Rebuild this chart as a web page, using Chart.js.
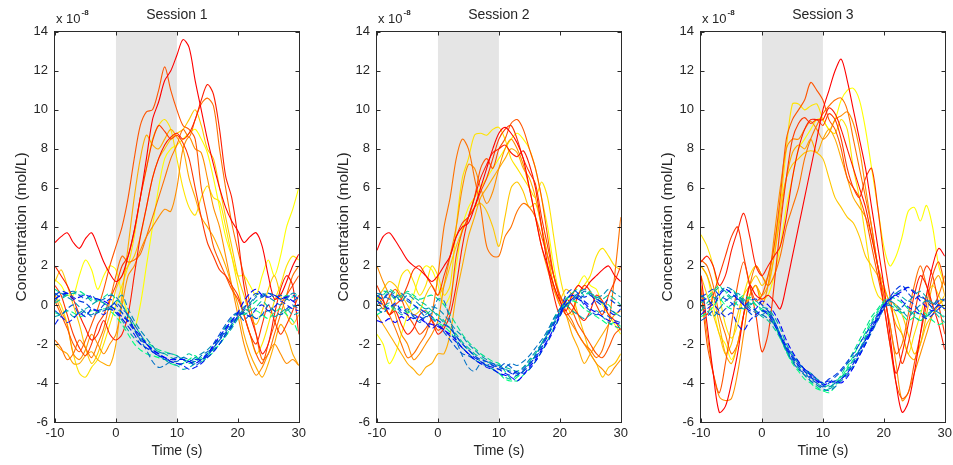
<!DOCTYPE html>
<html><head><meta charset="utf-8">
<script src="https://cdn.jsdelivr.net/npm/chart.js@4.4.1/dist/chart.umd.min.js"></script>
<style>
html,body{margin:0;padding:0;background:#fff;overflow:hidden;width:953px;height:465px;}
.panel{position:absolute;top:0;width:310px;height:465px;}
</style></head><body>
<div class="panel" style="left:0px"><canvas id="c1" width="310" height="465"></canvas></div>
<div class="panel" style="left:322px"><canvas id="c2" width="310" height="465"></canvas></div>
<div class="panel" style="left:646px"><canvas id="c3" width="310" height="465"></canvas></div>
<script>
const time = [-10,-9,-8,-7,-6,-5,-4,-3,-2,-1,0,1,2,3,4,5,6,7,8,9,10,11,12,13,14,15,16,17,18,19,20,21,22,23,24,25,26,27,28,29,30];
const sessionTitles = ['Session 1','Session 2','Session 3'];
const xTickValues = [-10,0,10,20,30];
const yMin = -6, yMax = 14, yStep = 2;
const stimulusWindow = [0,10];
const xLabel = 'Time (s)';
const yLabel = 'Concentration (mol/L)';
const exponentBase = 'x 10';
const exponentPower = '-8';

// Session 1 — solid traces (red → yellow)
const s1Solid = [
 [3.2,3.5,3.7,3.2,2.9,3.4,3.7,3.0,2.2,1.6,1.2, 1.5,2.5,3.8,5.5,7.5,9.5,10.4,11.5,12.0,12.8, 13.6,13.2,11.5,10.0,8.5,7.2,6.0,5.0,4.3,3.8, 3.2,3.5,3.7,3.0,1.5,0.3,0.5,1.2,2.0,2.6],
 [2.0,1.5,1.0,0.3,-0.5,-1.2,-1.8,-1.5,-0.8,-1.5,-1.8, -1.5,-0.5,1.5,3.5,5.0,6.5,7.5,8.2,8.6,8.8, 8.5,8.8,9.5,10.5,11.3,10.8,9.0,6.6,5.5,3.5, 1.0,-0.5,-1.5,-2.5,-2.0,-0.5,0.8,1.5,1.0,-1.5],
 [1.0,0.5,-0.5,-1.5,-2.2,-2.6,-2.0,-1.0,-0.5,0.3,1.0, 2.0,2.5,3.8,5.5,7.0,8.4,9.2,8.9,8.5,8.7, 8.3,7.5,6.0,4.5,3.2,2.5,1.8,1.5,1.0,0.5, -0.5,-1.5,-2.0,-1.0,0.0,-0.8,-1.5,-1.0,-0.3,0.5],
 [0.2,-0.5,-1.2,-2.0,-2.4,-1.8,-1.0,-0.2,0.8,2.0,3.0, 4.0,5.5,7.5,9.2,9.9,10.0,11.0,12.2,11.0,10.0, 9.2,9.0,8.5,6.0,4.5,3.0,2.2,1.5,0.8,0.3, -0.5,-1.5,-2.5,-3.0,-2.0,-1.0,0.0,0.5,1.0,1.5],
 [-1.8,-2.2,-2.8,-2.5,-1.8,-2.2,-2.7,-2.0,-1.2,0.2,1.5, 2.5,2.2,2.3,2.6,3.5,4.5,5.5,6.5,7.5,8.2, 9.0,8.6,9.5,10.3,10.6,10.2,8.0,6.0,4.2,2.8, 1.5,0.0,-1.5,-2.8,-2.5,-1.5,-0.5,0.5,1.5,2.0],
 [0.5,-0.3,-1.0,-2.5,-2.8,-2.3,-1.5,-2.0,-2.5,-2.0,-1.5, 0.0,1.5,2.0,2.8,3.5,4.0,4.5,4.9,4.8,6.0, 8.0,8.6,8.0,7.8,6.5,5.0,4.0,2.5,1.0,-0.5, -2.0,-3.0,-3.6,-3.2,-2.5,-2.0,-2.5,-3.0,-2.8,-3.1],
 [-2.0,-2.3,-2.5,-3.0,-3.0,-2.6,-2.4,-2.8,-3.0,-3.1,-2.0, 0.5,3.0,5.5,7.5,8.7,8.2,8.0,8.5,9.0,8.6, 8.0,6.5,5.5,4.5,4.0,3.5,2.8,2.0,1.0,0.0, -1.5,-2.5,-3.2,-3.7,-3.0,-2.0,-1.0,-1.5,-2.5,-3.1],
 [1.2,1.8,1.0,0.0,-1.0,-2.2,-3.0,-2.5,-1.5,-0.5,0.8, 1.5,2.0,2.5,3.5,5.0,6.5,7.5,8.0,8.5,8.8, 9.0,9.5,10.0,9.2,8.0,7.5,6.0,4.5,3.0,1.5, 0.5,-0.5,-1.0,-0.3,0.8,1.5,0.5,-0.5,-1.0,-0.5],
 [0.5,0.0,-1.0,-2.5,-3.5,-3.7,-3.2,-2.8,-2.0,-1.0,0.0, 1.0,2.0,3.5,5.5,7.0,8.5,9.2,9.5,9.0,7.5, 6.0,5.0,4.6,5.5,6.1,5.5,5.3,4.0,2.5,1.0, -0.5,-1.5,-2.5,-2.0,-1.0,0.2,1.0,2.0,2.5,2.3],
 [1.3,1.0,0.5,0.5,1.5,2.3,1.8,0.8,1.5,2.0,1.8, 0.5,-0.5,-1.2,0.0,2.0,4.0,6.0,7.5,8.0,8.2, 8.5,8.8,9.0,8.5,7.8,6.5,5.0,3.5,2.5,1.5, 1.5,1.0,0.5,1.5,2.3,1.5,2.5,4.0,4.9,6.0]
];
// Session 1 — dashed traces (blue → green)
const s1Dashed = [
 [0.3,0.5,0.6,0.3,0.4,0.5,0.4,0.3,0.2,0.0,-0.3, -0.6,-0.8,-1.2,-1.6,-2.0,-2.3,-2.5,-2.7,-2.8,-2.8, -2.8,-2.9,-3.0,-2.8,-2.5,-2.1,-1.6,-1.2,-0.8,-0.4, 0.2,0.6,0.8,0.5,0.4,0.5,0.3,0.4,0.2,0.0],
 [-1.0,-0.6,-0.9,-0.7,-0.4,-0.6,-0.2,-0.3,-0.5,-0.2,-0.4, -0.7,-1.1,-1.5,-2.0,-2.2,-2.4,-2.6,-2.7,-2.9,-3.0, -3.1,-3.3,-3.2,-3.0,-2.7,-2.4,-2.0,-1.5,-1.1,-0.6, -0.4,-0.6,-0.2,0.0,-0.3,-0.1,0.2,0.0,-0.2,-0.3],
 [0.5,0.7,0.6,0.4,0.2,0.1,-0.2,-0.3,0.0,0.3,0.0, -0.4,-0.9,-1.3,-1.8,-2.0,-2.3,-2.5,-2.7,-2.9,-3.0, -3.0,-2.9,-2.8,-2.8,-2.6,-2.2,-1.8,-1.3,-0.9,-0.5, -0.2,0.3,0.6,0.4,0.6,0.5,0.3,0.4,0.5,0.3],
 [-0.3,-0.5,-0.2,0.0,-0.5,-0.3,-0.6,-0.4,-0.3,-0.1,0.1, -0.2,-0.5,-1.0,-1.5,-2.0,-2.4,-2.6,-2.8,-2.8,-2.7, -2.8,-2.9,-3.1,-2.9,-2.6,-2.0,-1.5,-1.0,-0.6,-0.4, -0.8,-0.5,-0.7,-0.5,0.0,-0.3,-0.5,-0.2,0.0,-0.2],
 [0.6,0.4,0.6,0.7,0.5,0.3,0.5,0.2,0.3,0.5,0.4, 0.0,-0.6,-1.2,-1.8,-2.3,-2.9,-3.2,-3.1,-2.9,-2.9, -2.7,-2.8,-2.9,-2.6,-2.4,-2.2,-1.8,-1.4,-1.0,-0.6, -0.3,0.0,0.4,0.5,0.6,0.4,0.5,0.3,0.2,0.4],
 [0.2,0.6,0.4,0.2,-0.1,-0.4,-0.5,-0.3,-0.2,-0.1,0.2, 0.5,-0.2,-0.8,-1.3,-1.7,-2.1,-2.4,-2.5,-2.5,-2.6, -2.8,-2.9,-2.7,-2.5,-2.3,-2.0,-1.7,-1.2,-0.8,-0.4, -0.1,0.1,0.5,0.6,0.4,0.2,0.0,0.3,0.6,0.5],
 [-0.6,-0.5,-0.3,-0.6,-0.4,-0.2,0.0,0.2,0.1,-0.2,-0.4, -0.8,-1.3,-1.7,-2.0,-2.2,-2.4,-2.6,-2.8,-3.0,-3.1, -3.3,-3.2,-3.0,-2.8,-2.6,-2.3,-2.0,-1.6,-1.2,-0.7, -0.2,-0.4,-0.7,-0.5,-0.3,-0.6,-0.4,-0.2,-0.5,-0.4],
 [0.1,0.3,0.5,0.6,0.5,0.5,0.2,0.3,0.1,-0.1,-0.2, -0.4,-0.8,-1.3,-1.7,-2.0,-2.2,-2.4,-2.5,-2.7,-2.8, -2.7,-2.5,-2.7,-2.8,-2.6,-2.2,-1.7,-1.1,-0.7,-0.4, -0.5,-0.3,-0.1,0.2,-0.1,-0.3,-0.5,-0.3,-0.1,0.0],
 [0.8,0.6,0.5,0.6,0.7,0.5,0.3,0.2,0.4,0.6,0.3, 0.0,-0.5,-1.0,-1.5,-1.9,-2.1,-2.3,-2.4,-2.5,-2.6, -2.8,-3.0,-2.9,-2.7,-2.5,-2.3,-2.0,-1.5,-1.0,-0.6, -0.4,-0.1,0.2,0.4,0.6,0.5,0.3,0.5,0.4,0.6],
 [-0.4,-0.5,-0.3,-0.4,-0.6,-0.5,-0.3,-0.4,-0.2,-0.3,-0.6, -1.0,-1.5,-2.0,-2.3,-2.5,-2.6,-2.7,-2.8,-3.0,-3.1, -3.0,-2.8,-2.6,-2.9,-2.7,-2.4,-2.0,-1.6,-1.1,-0.7, -0.4,-0.6,-0.3,-0.5,-0.7,-0.4,-0.2,-0.5,-0.8,-1.5]
];

// Session 2 — solid traces
const s2Solid = [
 [2.8,3.5,3.7,3.3,2.8,2.3,2.0,1.8,1.5,1.2,1.5, 2.0,2.5,3.5,4.0,4.2,5.0,6.0,7.0,8.0,8.8, 9.1,8.8,8.3,7.5,6.0,4.5,3.0,2.0,1.0,0.2, -0.3,0.5,1.0,0.8,1.2,1.5,1.8,2.0,1.5,1.2],
 [0.5,0.2,-0.5,-0.3,-1.0,-1.5,-1.2,-0.5,-0.3,-0.8,-1.5, -1.2,-0.5,1.0,3.0,4.5,5.5,6.5,7.2,7.8,8.0, 8.2,7.8,7.6,7.9,7.2,6.0,4.0,2.0,0.5,-0.5, 0.3,0.0,-0.5,-0.8,-0.3,0.5,0.2,-0.5,-0.8,-1.3],
 [1.0,0.3,-0.5,0.0,0.3,1.0,1.8,2.0,1.5,1.0,0.5, 1.5,2.5,3.5,4.2,4.5,5.0,5.8,6.5,7.5,8.5, 9.0,9.2,8.5,7.5,6.8,6.2,4.5,3.0,1.5,0.3, -0.5,-0.3,0.5,1.0,0.7,0.0,-0.5,0.5,1.2,2.0],
 [0.3,-0.2,0.4,0.8,0.3,-0.5,-1.0,-1.5,-1.2,-0.8,-1.3, -1.0,0.0,2.5,3.8,4.5,5.5,7.0,7.5,7.0,8.0, 8.5,9.3,9.5,9.0,8.0,7.0,5.5,3.5,1.5,0.5, 0.0,-0.3,-1.0,-1.5,-2.0,-2.5,-2.7,-2.2,-1.5,-1.2],
 [0.5,0.0,-0.5,-1.2,-2.0,-2.7,-2.5,-2.0,-1.5,-0.5,1.5, 4.0,5.5,7.5,8.5,8.0,6.5,5.0,3.0,2.5,2.5, 3.5,4.0,4.8,5.2,5.0,4.5,3.5,2.5,1.5,0.5, -0.3,-0.8,-1.5,-2.0,-2.3,-2.7,-2.3,-1.0,1.5,4.5],
 [2.0,1.2,0.5,-0.5,-1.5,-2.0,-2.8,-2.5,-2.0,-1.5,-0.8, 1.0,2.5,4.0,6.0,7.2,7.0,6.0,5.2,5.8,7.0, 8.0,8.5,8.0,7.2,6.0,4.5,3.0,1.8,0.8,0.0, -0.5,-1.0,-1.5,-2.0,-2.5,-3.0,-3.3,-3.6,-3.2,-2.8],
 [-0.5,-1.0,-1.5,-2.0,-2.5,-3.0,-3.3,-3.6,-3.2,-3.0,-2.5, -2.5,-1.5,0.5,2.0,3.5,4.5,5.5,6.0,6.5,7.0, 7.5,8.0,7.8,7.0,6.5,5.5,4.0,2.5,1.0,0.0, -0.5,-1.5,-2.2,-3.0,-2.5,-2.0,-1.5,-1.0,-0.5,-0.3],
 [0.3,0.8,1.2,1.0,0.5,0.0,-0.5,-0.3,0.5,1.0,0.5, 1.0,2.0,3.0,3.8,4.5,5.0,5.2,4.8,4.0,3.0, 4.5,6.0,6.3,5.8,5.0,5.2,4.0,2.5,1.0,0.3, 0.8,0.5,-0.5,-1.5,-2.5,-3.0,-3.7,-3.2,-3.0,-2.5],
 [0.5,0.0,-0.5,0.3,1.5,1.8,1.2,0.5,1.0,2.0,1.5, 0.5,1.0,4.0,6.5,7.5,8.7,8.8,8.7,9.0,9.1, 8.5,7.5,7.0,6.5,6.0,5.5,6.3,5.5,3.5,1.5, 0.2,-0.5,0.5,1.0,1.5,2.5,2.9,2.5,2.0,1.8],
 [-1.5,-2.0,-3.0,-2.5,-1.5,-0.5,0.5,1.5,2.0,1.8,1.0, 0.0,0.5,2.0,4.0,5.0,5.5,6.0,6.5,7.0,7.5, 8.0,8.5,8.8,8.5,8.0,7.0,5.5,4.0,2.0,0.5, 0.0,0.5,1.0,1.5,1.0,0.8,0.0,-0.5,-1.0,-1.5]
];
// Session 2 — dashed traces
const s2Dashed = [
 [-0.8,-0.9,-0.7,-0.9,-0.6,-0.8,-0.5,-0.7,-0.9,-1.0,-1.1, -1.3,-1.5,-1.8,-2.2,-2.5,-2.8,-3.0,-3.2,-3.3,-3.5, -3.6,-3.7,-3.9,-3.6,-3.2,-2.8,-2.3,-1.8,-1.2,-0.5, 0.2,0.5,0.3,0.1,-0.2,-0.4,-0.6,-0.8,-0.9,-1.0],
 [0.2,0.0,-0.2,0.1,-0.3,-0.5,-0.7,-0.6,-0.9,-1.2,-1.0, -1.3,-1.6,-1.9,-2.2,-2.5,-2.7,-2.9,-3.1,-3.2,-3.3, -3.5,-3.6,-3.4,-3.5,-3.3,-2.9,-2.4,-1.9,-1.3,-0.6, 0.0,0.3,0.5,0.2,0.0,0.3,0.1,-0.3,-0.5,-0.2],
 [0.5,0.3,0.6,0.4,0.2,0.3,0.0,-0.2,-0.4,-0.6,-0.8, -1.0,-1.2,-1.6,-2.0,-2.3,-2.6,-2.8,-2.9,-3.1,-3.2, -3.3,-3.5,-3.6,-3.3,-3.0,-2.7,-2.2,-1.6,-1.0,-0.3, 0.5,0.8,0.6,0.4,0.5,0.2,0.0,0.3,0.1,-0.1],
 [-0.2,-0.4,-0.1,0.0,-0.4,-0.2,-0.6,-0.9,-0.6,-0.7,-1.0, -1.4,-1.8,-2.2,-2.5,-2.6,-2.8,-3.0,-3.1,-3.0,-3.2, -3.0,-3.2,-3.5,-3.4,-3.1,-2.6,-2.1,-1.5,-0.9,-0.4, 0.0,0.2,0.4,0.0,-0.3,-0.5,-0.3,-0.6,-0.8,-0.9],
 [0.6,0.5,0.3,0.4,0.6,0.2,0.0,-0.3,-0.6,-0.4,0.3, 0.2,-0.8,-1.8,-2.6,-3.2,-3.4,-3.0,-2.9,-3.1,-3.3, -3.2,-3.0,-3.1,-2.9,-2.6,-2.2,-1.8,-1.3,-0.7,-0.2, 0.2,0.6,0.4,0.7,0.5,0.3,0.1,-0.2,-0.4,-0.6],
 [0.0,0.3,0.7,0.5,0.2,0.5,0.3,0.0,-0.2,-0.1,-0.2, -0.5,-0.9,-1.3,-1.6,-2.0,-2.3,-2.6,-2.8,-3.0,-3.1, -3.3,-3.4,-3.5,-3.2,-2.8,-2.4,-2.0,-1.5,-1.0,-0.5, 0.0,0.3,0.6,0.8,0.6,0.4,0.5,0.8,0.6,0.4],
 [-0.3,-0.1,0.1,-0.2,-0.5,-0.3,-0.6,-0.8,-0.5,-0.3,-0.6, -0.9,-1.2,-1.6,-2.0,-2.3,-2.6,-2.9,-3.1,-3.3,-3.5, -3.7,-3.8,-3.6,-3.4,-3.0,-2.6,-2.0,-1.4,-0.8,-0.3, 0.0,-0.3,-0.5,-0.7,-0.5,-0.3,-0.6,-0.9,-1.1,-1.2],
 [0.4,0.7,0.6,0.3,0.5,0.6,0.4,0.2,0.0,-0.3,-0.5, -0.8,-1.2,-1.5,-1.9,-2.2,-2.5,-2.7,-2.9,-3.0,-3.1, -3.2,-3.3,-3.4,-3.2,-2.9,-2.5,-2.0,-1.5,-0.9,-0.4, 0.3,0.5,0.3,0.5,0.6,0.4,0.3,0.5,0.3,0.0],
 [0.2,0.5,0.8,0.6,0.4,0.7,0.5,0.3,0.4,0.5,0.3, 0.0,-0.5,-1.0,-1.5,-1.9,-2.2,-2.5,-2.7,-2.9,-3.0, -3.4,-3.8,-3.9,-3.6,-3.3,-2.9,-2.4,-1.8,-1.2,-0.6, 0.2,0.6,0.8,0.5,0.7,0.3,0.1,0.0,-0.4,-0.6],
 [-0.5,-0.3,0.0,-0.3,-0.1,-0.4,-0.2,0.0,-0.3,-0.6,-0.9, -1.1,-1.4,-1.8,-2.2,-2.5,-2.8,-3.0,-3.1,-3.3,-3.5, -3.8,-3.9,-3.7,-3.4,-3.0,-2.6,-2.0,-1.4,-0.7,-0.2, -0.1,0.2,0.1,-0.2,-0.4,-0.6,-0.8,-1.0,-0.9,-1.1]
];

// Session 3 — solid traces
const s3Solid = [
 [1.5,-1.0,-3.5,-5.5,-5.2,-4.0,-2.5,-0.5,1.0,0.5,0.3, 0.5,0.2,-0.2,1.0,2.5,4.0,5.5,7.0,8.5,10.0, 11.0,12.0,12.6,11.5,10.0,8.5,7.0,5.0,3.0,1.0, -1.5,-4.0,-5.5,-5.0,-3.5,-1.5,0.5,2.0,2.9,2.5],
 [2.2,2.5,2.0,1.0,1.5,2.8,3.8,4.7,3.5,2.0,1.5, 2.0,2.5,3.0,4.5,6.5,8.0,9.0,9.5,9.5,9.5, 10.1,9.8,9.0,8.0,7.0,6.0,5.0,3.5,2.0,0.0, -2.0,-3.5,-2.5,-1.0,0.5,1.5,1.0,0.0,-1.0,-2.3],
 [0.0,-0.5,0.5,1.5,2.5,3.5,4.0,2.5,1.0,-0.5,-2.4, -1.5,1.0,4.0,6.5,8.5,9.3,9.6,9.3,9.5,9.2, 9.8,9.5,8.5,7.0,6.0,5.5,6.5,7.0,5.0,2.5, 0.5,-1.5,-3.0,-2.0,-0.5,1.0,2.0,1.5,0.0,-1.5],
 [0.8,-2.0,-3.5,-4.5,-3.0,-1.0,1.0,2.2,1.0,0.2,0.5, 1.5,3.0,5.5,8.5,9.5,10.0,10.5,11.4,11.0,10.5, 9.5,9.0,8.0,6.5,6.0,5.5,4.5,3.0,1.5,0.0, -2.0,-4.0,-4.8,-4.5,-3.0,-1.5,0.0,1.5,2.2,1.0],
 [2.3,2.0,1.0,-0.5,-1.5,-2.5,-2.0,-0.5,1.0,2.0,1.5, 1.0,1.5,2.5,4.0,5.0,6.0,7.5,8.5,9.2,9.8, 10.2,10.5,10.6,10.0,8.5,7.0,5.5,4.0,2.0,0.5, -1.0,-2.5,-2.0,-0.5,1.0,2.0,1.0,0.0,0.5,1.5],
 [1.0,-1.5,-3.5,-4.7,-4.9,-4.8,-3.5,-1.5,0.5,1.0,0.0, 1.0,3.5,6.0,8.0,8.5,8.5,9.0,9.4,9.0,8.5, 8.8,9.5,9.7,9.9,9.3,8.0,6.0,4.0,2.0,0.5, -1.0,-3.0,-4.9,-4.5,-3.5,-2.5,-1.5,-0.5,0.0,0.3],
 [2.0,1.5,0.5,-1.0,-2.5,-3.0,-2.0,-0.5,0.5,1.0,0.5, 1.0,2.5,4.5,6.5,7.8,8.2,8.0,8.5,7.8,8.5, 9.0,8.5,7.5,6.5,5.5,5.0,4.5,3.5,2.0,1.0, 0.0,-1.0,-1.5,-2.5,-2.8,-2.0,-0.5,1.0,1.5,0.5],
 [1.5,0.5,-0.5,-1.5,-2.5,-2.0,-0.5,0.5,1.0,1.5,1.0, 1.5,3.0,5.0,6.5,7.2,7.5,7.8,7.9,7.8,7.5, 6.5,5.5,5.0,4.5,4.2,3.5,2.5,2.0,1.5,0.8, 0.2,0.0,-0.5,-1.5,-2.5,-2.0,-1.0,-0.5,0.0,0.5],
 [3.6,3.0,2.0,0.5,-1.0,-1.7,-1.0,0.5,1.5,2.0,1.5, 1.0,2.5,5.0,8.0,10.3,10.3,10.0,10.2,10.3,9.5, 9.0,8.8,9.5,9.0,7.0,5.5,3.5,1.5,0.5,0.2, 0.0,-0.5,-1.5,-2.5,-1.5,-0.5,0.5,1.0,0.5,-0.3],
 [2.0,1.5,0.0,-1.5,-2.0,-2.8,-2.0,-0.5,0.5,1.0,0.3, 0.5,1.5,3.0,5.0,6.5,8.0,8.5,9.0,9.5,9.5, 9.0,9.5,10.5,11.0,11.1,10.5,9.0,7.0,5.0,3.0, 2.0,2.5,3.5,4.8,5.0,4.3,5.1,4.0,2.0,1.0]
];
// Session 3 — dashed traces
const s3Dashed = [
 [0.2,0.3,0.0,0.5,0.8,0.6,0.3,0.0,-0.3,-0.2,0.2, 0.0,-0.4,-1.0,-1.8,-2.4,-2.9,-3.3,-3.6,-3.9,-4.1, -4.0,-3.9,-4.0,-3.7,-3.2,-2.6,-2.0,-1.3,-0.7,-0.1, 0.3,0.5,0.7,0.9,0.6,0.2,-0.1,-0.3,0.0,-0.2],
 [-0.5,-0.2,0.0,-0.3,-0.6,-0.4,-1.0,-1.3,-0.8,-0.5,-0.3, -0.5,-1.0,-1.6,-2.2,-2.7,-3.1,-3.4,-3.7,-3.9,-4.0, -3.9,-4.0,-3.8,-3.5,-3.0,-2.4,-1.8,-1.2,-0.6,0.0, 0.3,0.5,0.2,-0.1,-0.3,-0.5,-0.7,-0.5,-0.2,0.0],
 [0.4,0.6,0.8,0.5,0.3,0.1,-0.2,-0.1,0.2,0.3,0.0, -0.3,-0.8,-1.5,-2.1,-2.6,-3.0,-3.3,-3.5,-3.8,-4.0, -3.8,-3.6,-3.3,-2.9,-2.5,-2.0,-1.5,-1.0,-0.5,0.0, 0.4,0.8,1.0,0.6,0.3,0.5,0.2,-0.1,0.2,0.3],
 [-0.8,-0.6,-0.3,-0.5,-0.2,0.0,0.3,0.0,-0.4,-0.6,-0.3, -0.4,-0.9,-1.6,-2.3,-2.9,-3.3,-3.5,-3.8,-4.0,-4.2, -4.0,-3.7,-3.4,-3.0,-2.7,-2.3,-1.8,-1.3,-0.8,-0.2, 0.0,-0.3,-0.1,0.2,0.0,-0.4,-0.6,-0.3,0.0,-0.2],
 [0.3,0.0,0.2,0.6,0.9,0.8,0.4,0.1,-0.2,-0.4,-0.5, -0.7,-1.0,-1.6,-2.3,-2.8,-3.2,-3.6,-3.9,-4.1,-4.3, -4.4,-4.2,-3.9,-3.6,-3.2,-2.6,-2.0,-1.4,-0.8,-0.2, 0.2,0.6,0.8,0.9,0.7,0.4,0.3,0.0,0.3,0.2],
 [0.0,-0.3,-0.6,-0.2,0.2,0.4,0.5,0.2,-0.1,-0.3,-0.5, -0.3,-0.8,-1.5,-2.2,-2.6,-3.0,-3.3,-3.6,-3.8,-4.0, -4.2,-4.0,-3.8,-3.5,-3.1,-2.5,-1.9,-1.2,-0.6,0.0, 0.2,0.0,-0.3,-0.6,-0.3,0.0,0.2,-0.2,-0.4,-0.6],
 [0.5,0.3,0.6,0.9,0.7,0.4,0.6,0.3,0.0,0.2,-0.1, -0.2,-0.6,-1.2,-2.0,-2.5,-2.9,-3.3,-3.5,-3.8,-4.1, -4.3,-4.1,-3.8,-3.4,-2.9,-2.3,-1.7,-1.1,-0.6,-0.1, 0.3,0.6,0.4,0.2,0.5,0.7,0.4,0.1,0.0,-0.2],
 [-0.3,0.1,0.4,0.2,0.5,0.3,0.0,-0.2,0.1,-0.3,-0.6, -0.8,-1.2,-1.7,-2.3,-2.7,-3.1,-3.4,-3.7,-4.0,-4.2, -4.1,-3.9,-3.7,-3.3,-2.8,-2.3,-1.6,-0.9,-0.4,0.1, 0.2,-0.1,-0.4,-0.3,-0.6,-0.8,-0.5,-0.3,-0.6,-0.9],
 [0.1,0.4,0.7,1.0,0.6,0.8,0.5,0.2,0.4,0.0,-0.2, -0.4,-0.9,-1.6,-2.4,-2.9,-3.3,-3.6,-3.9,-4.2,-4.4, -4.3,-4.0,-3.6,-3.0,-2.4,-1.8,-1.2,-0.6,-0.2,0.2, 0.4,0.3,0.1,-0.2,-0.5,-0.8,-0.6,-0.3,-0.4,-0.7],
 [-0.6,-0.4,-0.1,0.3,0.0,-0.2,0.2,0.5,0.3,0.0,-0.3, -0.5,-1.0,-1.7,-2.4,-3.0,-3.4,-3.8,-4.0,-4.3,-4.4, -4.5,-4.2,-3.8,-3.2,-2.6,-2.0,-1.4,-0.8,-0.3,0.1, 0.0,-0.2,-0.5,-0.8,-0.6,-0.3,-0.5,-0.8,-1.0,-0.9]
];

const panels = [
  {id:'c1', title:sessionTitles[0], solid:s1Solid, dashed:s1Dashed},
  {id:'c2', title:sessionTitles[1], solid:s2Solid, dashed:s2Dashed},
  {id:'c3', title:sessionTitles[2], solid:s3Solid, dashed:s3Dashed}
];

function autumn(i, n){ const g = Math.round(255 * i / (n - 1)); return `rgb(255,${g},0)`; }
function winter(i, n){ const t = i / (n - 1); return `rgb(0,${Math.round(255*t)},${Math.round(255*(1 - t/2))})`; }
function toPoints(vals){ return vals.map((v, k) => ({x: time[k], y: v})); }

const TEXT = '#262626';
const FONT = "'Liberation Sans', Arial, Helvetica, sans-serif";

const framePlugin = {
  id: 'frame',
  beforeDatasetsDraw(chart){
    const {ctx, chartArea: a, scales: {x}} = chart;
    const x0 = x.getPixelForValue(stimulusWindow[0]);
    const x1 = x.getPixelForValue(stimulusWindow[1]);
    ctx.save();
    ctx.fillStyle = '#e5e5e5';
    ctx.fillRect(x0, a.top, x1 - x0, a.bottom - a.top);
    ctx.restore();
  },
  afterDatasetsDraw(chart){
    const {ctx, chartArea: a, scales: {x, y}} = chart;
    ctx.save();
    ctx.strokeStyle = '#2b2b2b';
    ctx.lineWidth = 1;
    const L = Math.round(a.left) - 0.5, R = Math.round(a.right) + 0.5;
    const T = Math.round(a.top) - 0.5, B = Math.round(a.bottom) + 0.5;
    ctx.strokeRect(L, T, R - L, B - T);
    const tl = 4;
    ctx.beginPath();
    xTickValues.forEach(v => {
      const px = Math.round(x.getPixelForValue(v)) + 0.5;
      ctx.moveTo(px, B); ctx.lineTo(px, B - tl);
      ctx.moveTo(px, T); ctx.lineTo(px, T + tl);
    });
    for (let v = yMin; v <= yMax; v += yStep){
      const py = Math.round(y.getPixelForValue(v)) + 0.5;
      ctx.moveTo(L, py); ctx.lineTo(L + tl, py);
      ctx.moveTo(R, py); ctx.lineTo(R - tl, py);
    }
    ctx.stroke();
    // exponent label
    ctx.fillStyle = TEXT;
    ctx.textBaseline = 'alphabetic';
    ctx.textAlign = 'left';
    ctx.font = `13px ${FONT}`;
    ctx.fillText(exponentBase, a.left + 1, 23);
    const w = ctx.measureText(exponentBase).width;
    ctx.font = `bold 8px ${FONT}`;
    ctx.fillText(exponentPower, a.left + 1 + w + 1, 15);
    ctx.restore();
  }
};

panels.forEach(p => {
  const datasets = [];
  p.solid.forEach((vals, i) => datasets.push({
    data: toPoints(vals), borderColor: autumn(i, p.solid.length), borderWidth: 1.1,
    pointRadius: 0, tension: 0.3, order: 2, fill: false
  }));
  p.dashed.forEach((vals, i) => datasets.push({
    data: toPoints(vals), borderColor: winter(i, p.dashed.length), borderWidth: 1.1,
    borderDash: [6, 3], pointRadius: 0, tension: 0.3, order: 1, fill: false
  }));
  new Chart(document.getElementById(p.id), {
    type: 'line',
    data: { datasets },
    options: {
      responsive: false, animation: false, devicePixelRatio: 1,
      layout: { padding: { left: 0, right: 10, top: 0, bottom: 0 } },
      plugins: {
        legend: { display: false }, tooltip: { enabled: false },
        title: { display: true, text: p.title, fullSize: false, color: TEXT,
                 font: { family: FONT, size: 14, weight: 'normal' }, padding: { top: 7, bottom: 8 } }
      },
      scales: {
        x: {
          type: 'linear', min: -10, max: 30,
          afterBuildTicks(s){ s.ticks = xTickValues.map(v => ({value: v})); },
          afterFit(s){ s.height = 43; },
          grid: { display: false, drawTicks: false }, border: { display: false },
          ticks: { color: TEXT, padding: 4, font: { family: FONT, size: 13 }, maxRotation: 0 },
          title: { display: true, text: xLabel, color: TEXT, font: { family: FONT, size: 14 }, padding: { top: 0, bottom: 5 } }
        },
        y: {
          type: 'linear', min: yMin, max: yMax,
          ticks: { stepSize: yStep, color: TEXT, padding: 7, font: { family: FONT, size: 13 } },
          afterFit(s){ s.width = 55; },
          grid: { display: false, drawTicks: false }, border: { display: false },
          title: { display: true, text: yLabel, color: TEXT, font: { family: FONT, size: 15.5 }, padding: { top: 12, bottom: 0 } }
        }
      }
    },
    plugins: [framePlugin]
  });
});
</script>
</body></html>
